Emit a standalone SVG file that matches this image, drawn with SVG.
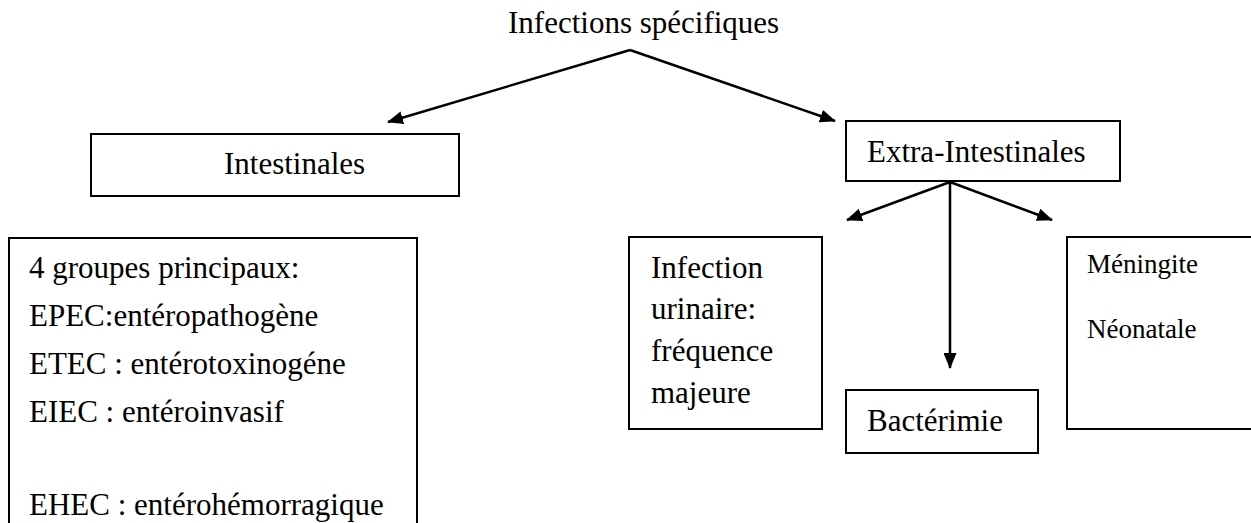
<svg xmlns="http://www.w3.org/2000/svg" width="1251" height="523" viewBox="0 0 1251 523">
  <style>
    .box { fill: #ffffff; stroke: #000000; stroke-width: 2; }
    .t { font-family: "Liberation Serif", "Times New Roman", serif; font-size: 31px; fill: #000000; }
    .ts { font-family: "Liberation Serif", "Times New Roman", serif; font-size: 27px; fill: #000000; }
    .conn { stroke: #000000; stroke-width: 2.5; fill: none; marker-end: url(#ah); }
  </style>
  <defs>
    <marker id="ah" markerWidth="16" markerHeight="13" refX="15" refY="6.5" orient="auto" markerUnits="userSpaceOnUse">
      <path d="M0,0 L16,6.5 L0,13 z" fill="#000000"/>
    </marker>
  </defs>
  <rect width="1251" height="523" fill="#ffffff"/>

  <g id="connectors">
    <line class="conn" x1="630" y1="50" x2="388" y2="122"/>
    <line class="conn" x1="630" y1="50" x2="835" y2="121"/>
    <line class="conn" x1="950" y1="182" x2="847" y2="220"/>
    <line class="conn" x1="950" y1="182" x2="1052" y2="220"/>
    <line class="conn" x1="950" y1="182" x2="950" y2="368"/>
  </g>

  <g id="title">
    <text class="t" x="508" y="33">Infections spécifiques</text>
  </g>

  <g id="intestinales">
    <rect class="box" x="91" y="134" width="368" height="62"/>
    <text class="t" x="224" y="174">Intestinales</text>
  </g>

  <g id="extra-intestinales">
    <rect class="box" x="846" y="121" width="274" height="60"/>
    <text class="t" x="867" y="162">Extra-Intestinales</text>
  </g>

  <g id="groupes">
    <rect class="box" x="9" y="238" width="408" height="300"/>
    <text class="t" x="29" y="278">4 groupes principaux:</text>
    <text class="t" x="29" y="326">EPEC:entéropathogène</text>
    <text class="t" x="29" y="374">ETEC : entérotoxinogéne</text>
    <text class="t" x="29" y="422">EIEC : entéroinvasif</text>
    <text class="t" x="29" y="515">EHEC : entérohémorragique</text>
  </g>

  <g id="infection-urinaire">
    <rect class="box" x="629" y="237" width="193" height="192"/>
    <text class="t" x="651" y="278">Infection</text>
    <text class="t" x="651" y="319">urinaire:</text>
    <text class="t" x="651" y="361">fréquence</text>
    <text class="t" x="651" y="403">majeure</text>
  </g>

  <g id="bacterimie">
    <rect class="box" x="846" y="390" width="192" height="63"/>
    <text class="t" x="867" y="431">Bactérimie</text>
  </g>

  <g id="meningite">
    <rect class="box" x="1067" y="237" width="200" height="192"/>
    <text class="ts" x="1087" y="273">Méningite</text>
    <text class="ts" x="1087" y="338">Néonatale</text>
  </g>
</svg>
